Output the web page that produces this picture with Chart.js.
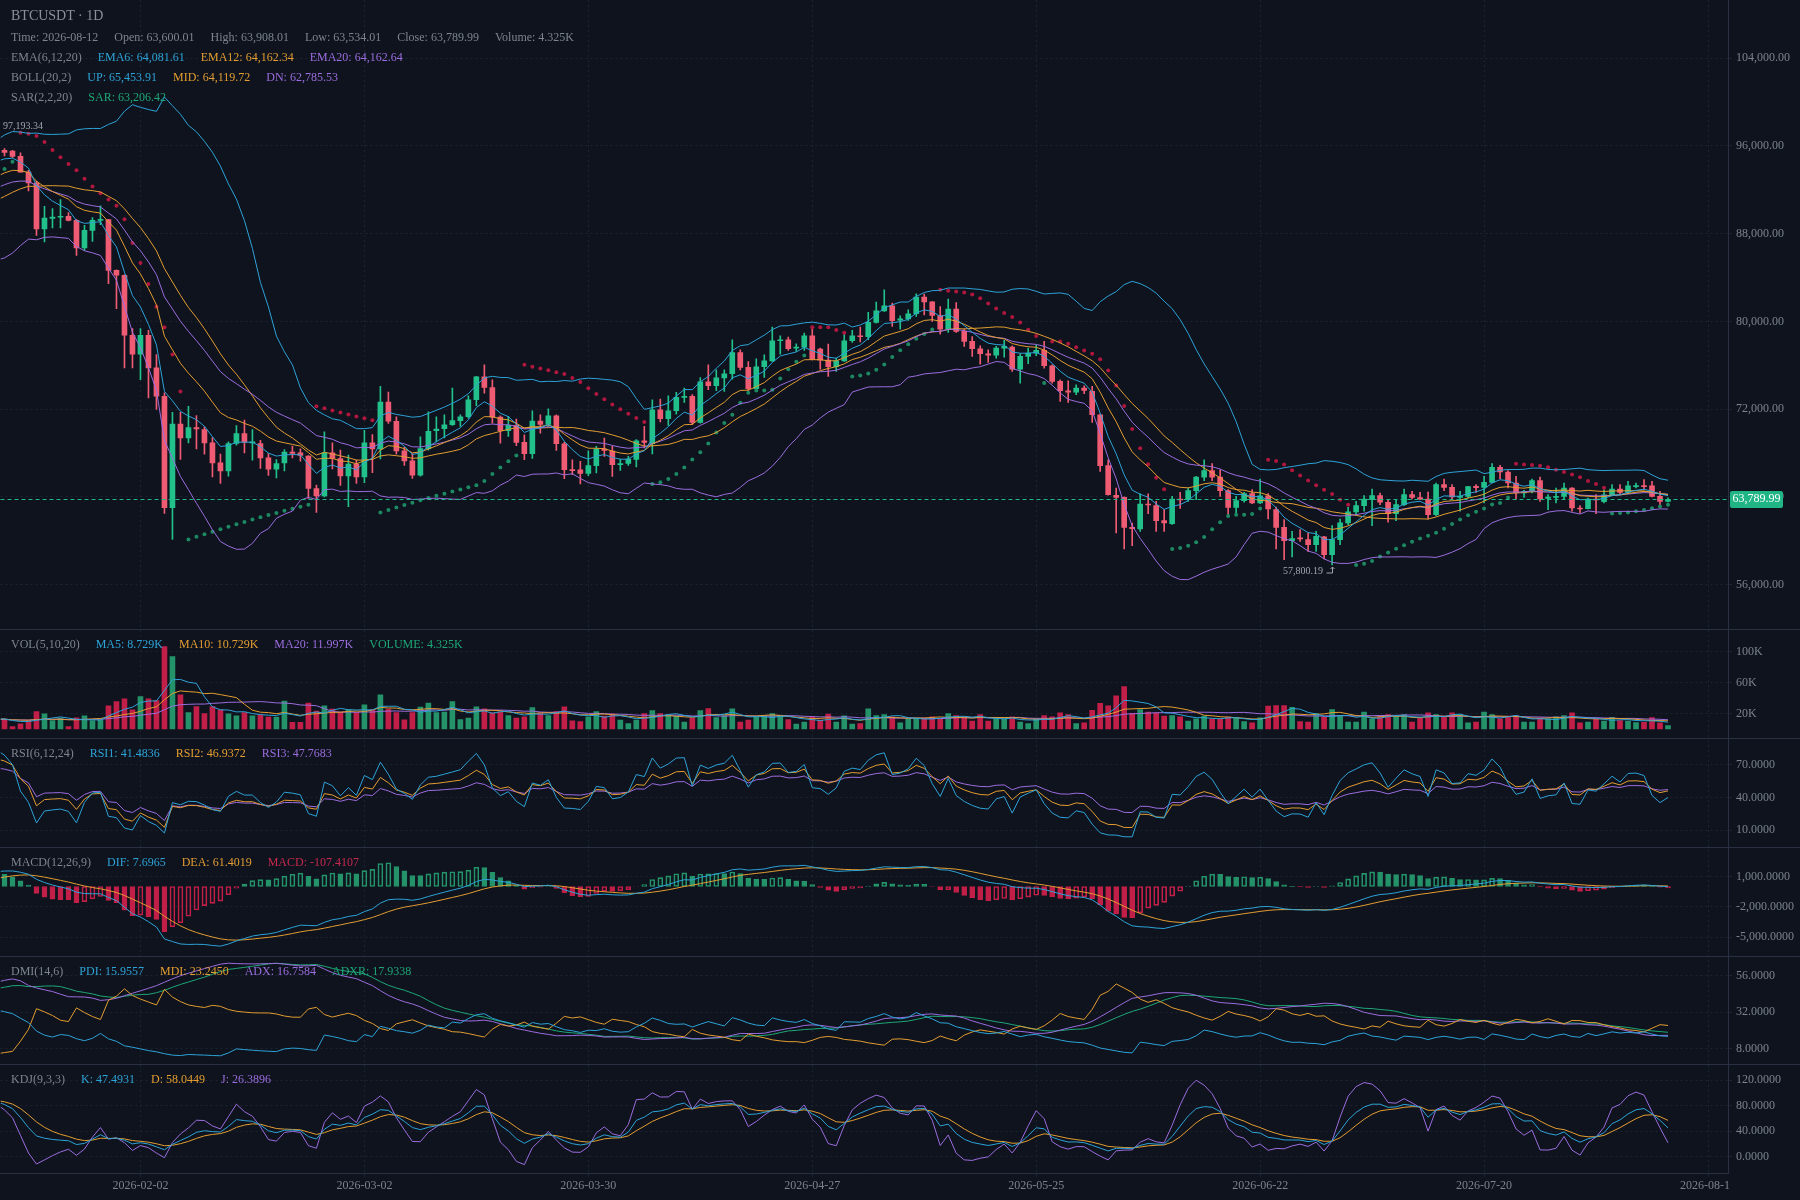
<!DOCTYPE html>
<html>
<head>
<meta charset="utf-8">
<title>BTCUSDT 1D</title>
<script src="https://cdn.jsdelivr.net/npm/chart.js@4.4.1/dist/chart.umd.min.js"></script>
<style>
  html, body { margin: 0; padding: 0; background: #0e131d; }
  #wrap { position: relative; width: 1800px; height: 1200px; overflow: hidden; }
  #chart { display: block; }
  .row { position: absolute; left: 11px; height: 16px; line-height: 16px; font: 12px "Liberation Serif", serif; color: #7e848f; white-space: nowrap; }
  .row span { margin-right: 16px; }
  .row.title { font-size: 14px; color: #8a909a; }
  .tag { position: absolute; left: 1730px; width: 53px; height: 17px; line-height: 17px; text-align: center; background: #1fb584; color: #ffffff; font: 12px "Liberation Serif", serif; border-radius: 2px; }
  .mark { position: absolute; font: 10px "Liberation Serif", serif; color: #a0a5ae; white-space: nowrap; height: 12px; line-height: 12px; }
</style>
</head>
<body>
<div id="wrap"><canvas id="chart" width="1800" height="1200"></canvas></div>
<script>
// daily candles, first 45 rows sit left of the visible window (2026-01-16 .. 2026-08-12)
var START_DAY = '2025-12-02';
var VIEW_FROM = '2026-01-16';
var VIEW_TO = '2026-08-19';

var opens = [
90800,91200,91800,92500,92100,93000,93600,93100,92400,92900,
92200,91500,91900,91100,90400,90900,90200,89500,89900,89100,
88400,88900,88200,87700,88300,87800,88200,87600,87200,88000,
88700,88300,89300,90000,89600,90500,91200,90800,91700,92600,
92200,93500,94600,95400,95800,
95590,95530,95050,93620,92620,88430,89400,89500,89580,89220,
86700,88310,89220,89280,84660,84210,78740,77010,78740,75760,
73180,63010,70630,69390,70330,70140,68930,67110,66380,68870,
69780,68930,68870,67560,66530,67110,68080,68020,67720,64770,
64100,68020,67500,65920,66990,65830,68930,68380,72640,70900,
68200,67290,65980,68410,70050,70220,70580,70950,71310,72860,
74960,73980,71280,70040,70520,68970,67940,70920,70610,71400,
68850,66480,66480,66150,66850,68370,68180,66940,67060,67420,
69120,68850,71950,71130,71860,73070,73160,70790,74500,74140,
74860,75230,77170,75810,73860,75870,76410,78240,78330,77570,
77660,78690,77480,76470,75870,76410,78240,78690,78600,79910,
80970,81420,80120,80240,80700,82210,81790,80540,79300,81120,
79090,78180,77510,77050,76930,77570,77660,75650,76810,77110,
77360,75960,74530,73680,73560,73920,73620,71490,66850,64140,
63960,61230,61080,63350,63200,61840,61560,63810,63750,64570,
65810,66390,65810,64570,63050,63660,64300,63450,64110,62840,
61230,60010,60230,60100,59650,60350,58740,60110,61630,62630,
63200,63750,64120,63510,62480,63300,64210,63930,63810,62380,
65120,64870,63960,64050,64970,64870,65330,66700,66270,65270,
64360,64510,65480,63870,63960,64050,64810,62990,62930,63810,
63570,64180,64720,64420,64940,65030,65000,64050,63600.01];

var highs = [
91500,92100,92900,92800,93300,94000,93900,93300,93200,93100,
92500,92300,92100,91400,91300,91100,90500,90300,90100,89400,
89300,89100,88500,88700,88500,88600,88400,87900,88400,89100,
89000,89700,90400,90300,90900,91600,91500,92100,93000,92900,
93900,95000,95800,96300,97193.34,
95750,95600,95380,93770,92770,90490,90280,91100,89920,89310,
88760,89460,90550,89310,84700,84250,79350,79350,79200,76980,
73490,71720,71720,72270,71420,70390,69420,67900,69020,70510,
71000,70140,69170,67960,67410,68320,68630,68380,67780,65070,
69930,68930,68260,67810,67350,70080,69690,74090,73550,71300,
68510,67960,69480,71750,71300,71490,73920,71490,73220,75000,
76050,74680,71400,71340,71100,69670,71860,71490,72040,71490,
69000,67390,67240,68210,68610,69370,68610,67450,67700,69220,
70430,72860,72920,73220,73530,73920,73320,74890,76050,75590,
75590,78330,77420,76350,76600,76960,79480,78690,78570,77960,
78930,79480,77570,77930,76660,78930,79180,79480,80820,81760,
82880,81670,80510,81060,82520,82490,81820,81360,82030,81730,
79300,78630,77780,77420,77720,78270,77780,77050,77570,77870,
78180,76050,74680,74590,74230,74140,74080,71550,67390,64810,
64000,61620,64270,64270,63600,62840,64050,64420,64810,65880,
67390,67030,66480,64660,64050,64420,64660,65630,64300,63080,
61930,60860,61020,60710,60860,60400,61380,61990,63050,63600,
64120,64720,64360,63750,63750,64720,64510,64420,64450,65270,
65630,65120,64510,64970,65120,65880,67030,66880,66390,65880,
64600,65630,65820,64210,64810,65270,64850,63200,63900,64210,
64660,65120,65120,65420,65270,65570,65420,64510,63908.01];

var lows = [
90500,90900,91600,91700,91900,92700,92800,92000,92100,91900,
91100,91200,90800,90000,90100,89800,89100,89200,88700,88000,
88100,87800,87300,87400,87400,87500,87200,86800,86900,87700,
87900,88100,89000,89200,89400,90200,90400,90600,91500,91800,
92000,93300,94300,95000,95300,
95100,94930,93600,91890,87850,87240,88520,88520,89160,86030,
86480,87300,88820,83450,81170,75760,75760,74700,73030,71970,
62490,60120,67410,68930,68380,67900,65830,65230,65890,68720,
68020,67350,66590,65950,65740,66380,67560,67260,63860,62580,
64010,66560,65040,63100,65230,65290,66200,67470,70690,67900,
66870,65680,65890,68260,69020,69370,70520,70430,71190,72310,
73470,70730,68910,69520,68670,67390,67520,69820,70430,68240,
65660,66030,65180,65940,66180,67700,65870,66420,66880,66730,
68460,67910,70830,70520,71550,72620,70580,70730,73770,73680,
73620,74740,75590,73710,73770,74890,76350,77020,77350,77260,
77350,76500,75650,74990,75440,76350,78080,78140,78330,79850,
80910,79540,79300,80090,80450,80600,80000,78840,79000,79000,
77720,76810,76110,76260,76660,76750,75440,74380,76140,76870,
75750,74380,72710,72620,73320,73410,70800,66330,64150,60710,
59250,59560,60860,62470,60860,60860,61500,62960,63600,63750,
65480,65480,64050,62380,62440,63510,63380,63380,61990,59250,
58280,58530,59950,59040,59040,58350,57800.19,59650,61470,62380,
62690,61380,63300,61690,61840,63200,63810,63750,61990,62290,
64570,63810,62690,63900,64420,63450,65270,65630,64810,63810,
63960,64360,63600,62840,63450,63750,62690,62540,62900,62480,
63450,64120,64300,64300,64810,64720,63990,63300,63534.01];

var closes = [
91200,91800,92500,92100,93000,93600,93100,92400,92900,92200,
91500,91900,91100,90400,90900,90200,89500,89900,89100,88400,
88900,88200,87700,88300,87800,88200,87600,87200,88000,88700,
88300,89300,90000,89600,90500,91200,90800,91700,92600,92200,
93500,94600,95400,95800,95600,
95410,95050,93620,92620,88430,89430,89520,89580,89220,86700,
88310,89220,89280,84660,84210,78740,77010,78740,75760,73180,
63010,70630,69390,70330,70200,68930,67110,66380,68870,69780,
68990,68990,67560,66530,67050,68080,67960,67780,64770,64100,
68020,67500,65920,66990,65830,68930,68380,72640,70900,68200,
67290,65980,68410,69990,70180,70580,70950,71310,72860,74960,
73980,71280,70040,70520,68970,67940,70920,70610,71400,68850,
66480,66390,66150,66850,68370,68240,66940,67030,67450,69120,
68970,71950,71130,71860,73070,73160,70790,74500,74140,74860,
75230,77170,75810,73860,75870,76410,78240,78330,77510,77660,
78690,76570,76470,75870,76410,78240,78690,78600,79910,80970,
81420,80060,80240,80700,82210,81790,80540,79300,81120,79090,
78180,77510,77050,76930,77570,77720,75650,76810,77110,77360,
75960,74530,73680,73560,73920,73710,71490,66850,64200,63960,
61230,61110,63350,63260,61840,61620,63810,63720,64570,65810,
66390,65810,64570,63050,63660,64300,63450,64110,62900,61230,
60010,60200,60170,59650,60410,58740,60110,61630,62630,63200,
63810,64120,63510,62480,63300,64210,63960,63810,62380,65120,
64870,63990,64050,64940,64840,65330,66700,66270,65270,64360,
64510,65480,63810,63990,64050,64810,62990,62900,63810,63720,
64180,64720,64420,65000,65030,64940,64050,63600,63789.99];

var volumes = [
11000,9500,12800,10200,14100,12500,9800,11300,8700,10400,
13200,9100,11800,12600,10900,9300,12100,10700,13500,11200,
9900,12300,10600,8900,11500,12900,10100,9600,13800,11700,
10300,12400,9400,14200,11900,10800,13100,9700,12200,15400,
11600,13700,12900,10500,14800,
12600,3000,6500,10800,22500,19500,10800,13900,3000,14300,
16900,10800,11700,29900,35500,39000,24700,42000,39000,36800,
107000,94000,44000,21000,29000,19900,29000,24700,19500,16900,
21000,16900,18200,15200,15200,36000,8300,8300,33300,22900,
30000,25600,21000,24700,21000,31300,24700,44000,25600,21000,
11700,21000,28100,33300,21000,21600,35500,12000,13900,28600,
26000,20800,21600,17300,13900,15600,27700,20800,17300,22500,
28600,10400,9500,15600,22500,16500,19500,11300,6900,11300,
19900,23800,19900,18200,16500,8700,13900,23800,26400,14700,
17300,26000,8700,11300,15600,17300,19900,17300,12100,6100,
8700,15600,11300,19000,8700,16900,6100,6900,26000,17300,
18600,15600,7800,13000,13000,14300,15600,13000,19900,17300,
15600,10000,18600,10000,13000,13000,15600,8700,6900,13000,
17300,15600,20800,18600,6900,7800,24000,33000,30000,43000,
55000,20000,25000,21600,20800,16500,17300,15600,10000,13000,
16500,13000,13000,15600,14300,9500,7800,14300,29400,30300,
30300,28000,9500,8700,19900,15600,25000,17300,8700,8700,
21600,13000,17300,18600,15600,18600,8700,14300,20800,18600,
16500,20800,18600,7800,8700,21600,18600,13000,16500,17300,
8700,8700,14300,13000,15600,17300,20800,7800,8700,14000,
10000,15000,10800,10000,8000,8500,14500,7800,4325];

var tickDates = ['2026-02-02','2026-03-02','2026-03-30','2026-04-27','2026-05-25','2026-06-22','2026-07-20','2026-08-17'];
var priceTicks = [56000,64000,72000,80000,88000,96000,104000];
var volTicks = [20000,60000,100000];
var rsiTicks = [10,40,70];
var macdTicks = [-5000,-2000,1000];
var dmiTicks = [8,32,56];
var kdjTicks = [0,40,80,120];

// legend texts as shown for the last bar
var infoRow = ['Time: 2026-08-12','Open: 63,600.01','High: 63,908.01','Low: 63,534.01','Close: 63,789.99','Volume: 4.325K'];
var emaRow = [['EMA(6,12,20)',''],['EMA6: 64,081.61','b'],['EMA12: 64,162.34','o'],['EMA20: 64,162.64','p']];
var bollRow = [['BOLL(20,2)',''],['UP: 65,453.91','b'],['MID: 64,119.72','o'],['DN: 62,785.53','p']];
var sarRow = [['SAR(2,2,20)',''],['SAR: 63,206.42','g']];
var volRow = [['VOL(5,10,20)',''],['MA5: 8.729K','b'],['MA10: 10.729K','o'],['MA20: 11.997K','p'],['VOLUME: 4.325K','g']];
var rsiRow = [['RSI(6,12,24)',''],['RSI1: 41.4836','b'],['RSI2: 46.9372','o'],['RSI3: 47.7683','p']];
var macdRow = [['MACD(12,26,9)',''],['DIF: 7.6965','b'],['DEA: 61.4019','o'],['MACD: -107.4107','r']];
var dmiRow = [['DMI(14,6)',''],['PDI: 15.9557','b'],['MDI: 23.2450','o'],['ADX: 16.7584','p'],['ADXR: 17.9338','g']];
var kdjRow = [['KDJ(9,3,3)',''],['K: 47.4931','b'],['D: 58.0449','o'],['J: 26.3896','p']];

var BG = '#0e131d', GRID = '#1d2431', AXIS = '#283041', TICK = '#7d838e';
var BLUE = '#2ea3d8', ORANGE = '#e39d32', PURPLE = '#9c6ddf', GREEN = '#1fa777', RED = '#c8294f';
var UP = '#22c08a', DOWN = '#ef5b73', VUP = '#25936a', VDOWN = '#c11f48';
var SAR_UP = '#1c8962', SAR_DOWN = '#b0173e';
var FONT = '"Liberation Serif", serif';
var txtColors = { b: BLUE, o: ORANGE, p: PURPLE, g: GREEN, r: RED };

var FUTURE = 7;
var dates = [];
var t0 = Date.parse(START_DAY + 'T00:00:00Z');
for (var i = 0; i < closes.length + FUTURE; i++) {
	dates.push(new Date(t0 + i * 86400000).toISOString().slice(0, 10));
}
var firstVisible = dates.indexOf(VIEW_FROM);

function emaOf(src, n) {
	var out = [], prev = null;
	src.forEach(function (v) {
		prev = prev === null ? v : (2 * v + (n - 1) * prev) / (n + 1);
		out.push(prev);
	});
	return out;
}

function maOf(src, n) {
	return src.map(function (_, i) {
		if (i < n - 1) return null;
		var s = 0;
		for (var j = i - n + 1; j <= i; j++) s += src[j];
		return s / n;
	});
}

function sarOf(h, l, step, maxAf) {
	var vals = [l[0]], rising = [true];
	var up = true, af = step, ep = h[0], s = l[0];
	for (var i = 1; i < h.length; i++) {
		s = s + af * (ep - s);
		if (up) {
			s = Math.min(s, l[i - 1], l[Math.max(i - 2, 0)]);
			if (l[i] < s) { up = false; s = ep; ep = l[i]; af = step; }
			else if (h[i] > ep) { ep = h[i]; af = Math.min(af + step, maxAf); }
		} else {
			s = Math.max(s, h[i - 1], h[Math.max(i - 2, 0)]);
			if (h[i] > s) { up = true; s = ep; ep = h[i]; af = step; }
			else if (l[i] < ep) { ep = l[i]; af = Math.min(af + step, maxAf); }
		}
		vals.push(s);
		rising.push(up);
	}
	return { vals: vals, rising: rising };
}

function rsiOf(c, n) {
	var out = [null], gain = 0, loss = 0;
	for (var i = 1; i < c.length; i++) {
		var d = c[i] - c[i - 1];
		gain = (Math.max(d, 0) + (n - 1) * gain) / n;
		loss = (Math.abs(d) + (n - 1) * loss) / n;
		out.push(loss === 0 ? 100 : gain / loss * 100);
	}
	return out;
}

function dmiOf(h, l, c, n, m) {
	var pdi = [null], mdi = [null], adx = [null];
	var tr = 0, pdm = 0, mdm = 0, ax = null;
	for (var i = 1; i < c.length; i++) {
		var t = Math.max(h[i] - l[i], Math.abs(h[i] - c[i - 1]), Math.abs(l[i] - c[i - 1]));
		var hd = h[i] - h[i - 1], ld = l[i - 1] - l[i];
		tr = tr - tr / n + t;
		pdm = pdm - pdm / n + (hd > 0 && hd > ld ? hd : 0);
		mdm = mdm - mdm / n + (ld > 0 && ld > hd ? ld : 0);
		var p = pdm / tr * 100, q = mdm / tr * 100;
		var dx = p + q === 0 ? 0 : Math.abs(p - q) / (p + q) * 100;
		ax = ax === null ? dx : (ax * (n - 1) + dx) / n;
		pdi.push(p); mdi.push(q); adx.push(ax);
	}
	var adxr = adx.map(function (v, i) {
		return i < m + 1 ? null : (v + adx[i - m]) / 2;
	});
	return { pdi: pdi, mdi: mdi, adx: adx, adxr: adxr };
}

function kdjOf(h, l, c, n, m1, m2) {
	var k = 50, d = 50, K = [], D = [], J = [];
	for (var i = 0; i < c.length; i++) {
		var a = Math.max(0, i - n + 1);
		var hh = Math.max.apply(null, h.slice(a, i + 1));
		var ll = Math.min.apply(null, l.slice(a, i + 1));
		var rsv = hh === ll ? 50 : (c[i] - ll) / (hh - ll) * 100;
		k = ((m1 - 1) * k + rsv) / m1;
		d = ((m2 - 1) * d + k) / m2;
		K.push(k); D.push(d); J.push(3 * k - 2 * d);
	}
	return { k: K, d: D, j: J };
}

// indicators
var ema6 = emaOf(closes, 6), ema12 = emaOf(closes, 12), ema20 = emaOf(closes, 20);
var bollMid = maOf(closes, 20), bollUp = [], bollDn = [];
closes.forEach(function (_, i) {
	if (bollMid[i] === null) { bollUp.push(null); bollDn.push(null); return; }
	var v = 0;
	for (var j = i - 19; j <= i; j++) v += Math.pow(closes[j] - bollMid[i], 2);
	var sd = Math.sqrt(v / 20);
	bollUp.push(bollMid[i] + 2 * sd);
	bollDn.push(bollMid[i] - 2 * sd);
});
var sar = sarOf(highs, lows, 0.02, 0.2);
var volMa5 = maOf(volumes, 5), volMa10 = maOf(volumes, 10), volMa20 = maOf(volumes, 20);
var rsi6 = rsiOf(closes, 6), rsi12 = rsiOf(closes, 12), rsi24 = rsiOf(closes, 24);
var e26 = emaOf(closes, 26);
var dif = closes.map(function (_, i) { return ema12[i] - e26[i]; });
var dea = emaOf(dif, 9);
var macd = dif.map(function (v, i) { return 2 * (v - dea[i]); });
var dmi = dmiOf(highs, lows, closes, 14, 6);
var kdj = kdjOf(highs, lows, closes, 9, 3, 3);

var rising = closes.map(function (c, i) { return c >= opens[i]; });
var candleColors = rising.map(function (u) { return u ? UP : DOWN; });
var volColors = rising.map(function (u) { return u ? VUP : VDOWN; });
var bodies = closes.map(function (c, i) { return [Math.min(c, opens[i]), Math.max(c, opens[i])]; });
var wicks = closes.map(function (c, i) { return [lows[i], highs[i]]; });
var macdLine = macd.map(function (v) { return v >= 0 ? VUP : VDOWN; });
var macdFill = macd.map(function (v, i) {
	var growing = i > 0 && v > macd[i - 1];
	return growing ? 'rgba(0,0,0,0)' : (v >= 0 ? VUP : VDOWN);
});

function line(data, color, axis) {
	return { type: 'line', data: data, yAxisID: axis, borderColor: color, borderWidth: 1,
		pointRadius: 0, tension: 0, order: 0 };
}

var datasets = [
	line(ema6, BLUE, 'y'), line(ema12, ORANGE, 'y'), line(ema20, PURPLE, 'y'),
	line(bollUp, BLUE, 'y'), line(bollMid, ORANGE, 'y'), line(bollDn, PURPLE, 'y'),
	{ type: 'line', data: sar.vals, yAxisID: 'y', showLine: false, pointRadius: 2, pointBorderWidth: 0,
		pointBackgroundColor: sar.rising.map(function (u) { return u ? SAR_UP : SAR_DOWN; }), order: 0 },
	{ type: 'bar', data: bodies, yAxisID: 'y', backgroundColor: candleColors, barThickness: 5,
		minBarLength: 1, grouped: false, order: 1 },
	{ type: 'bar', data: wicks, yAxisID: 'y', backgroundColor: candleColors, barThickness: 1,
		grouped: false, order: 2 },
	{ type: 'bar', data: volumes, yAxisID: 'yv', backgroundColor: volColors, barThickness: 5,
		grouped: false, order: 1 },
	line(volMa5, BLUE, 'yv'), line(volMa10, ORANGE, 'yv'), line(volMa20, PURPLE, 'yv'),
	line(rsi6, BLUE, 'yr'), line(rsi12, ORANGE, 'yr'), line(rsi24, PURPLE, 'yr'),
	{ type: 'bar', data: macd, yAxisID: 'ym', backgroundColor: macdFill, borderColor: macdLine,
		borderWidth: 1, borderSkipped: false, barThickness: 5, grouped: false, order: 1 },
	line(dif, BLUE, 'ym'), line(dea, ORANGE, 'ym'),
	line(dmi.pdi, BLUE, 'yd'), line(dmi.mdi, ORANGE, 'yd'), line(dmi.adx, PURPLE, 'yd'), line(dmi.adxr, GREEN, 'yd'),
	line(kdj.k, BLUE, 'yk'), line(kdj.d, ORANGE, 'yk'), line(kdj.j, PURPLE, 'yk')
];

function fmtPrice(v) { return v.toLocaleString('en-US', { minimumFractionDigits: 2, maximumFractionDigits: 2 }); }
function fmt4(v) { return v.toLocaleString('en-US', { minimumFractionDigits: 4, maximumFractionDigits: 4 }); }
function fmtK(v) { return (v / 1000) + 'K'; }

function pane(weight, min, max, ticks, fmt) {
	return {
		type: 'linear', position: 'right', stack: 'panes', stackWeight: weight, min: min, max: max,
		afterBuildTicks: function (s) { s.ticks = ticks.map(function (v) { return { value: v }; }); },
		afterFit: function (s) { s.width = 72; s.paddingTop = 0; s.paddingBottom = 0; },
		grid: { color: GRID, tickLength: 4 },
		border: { color: AXIS, dash: [2, 3] },
		ticks: { color: TICK, font: { family: FONT, size: 12 }, padding: 4, callback: fmt }
	};
}

// keep each pane's marks inside its own band
var paneClip = {
	id: 'paneClip',
	beforeDatasetDraw: function (chart, args) {
		var s = chart.scales[args.meta.yAxisID], a = chart.chartArea, ctx = chart.ctx;
		ctx.save();
		ctx.beginPath();
		ctx.rect(a.left, s.top, a.right - a.left, s.bottom - s.top);
		ctx.clip();
	},
	afterDatasetDraw: function (chart) { chart.ctx.restore(); }
};

var overlay = {
	id: 'overlay',
	afterDatasetsDraw: function (chart) {
		var ctx = chart.ctx, a = chart.chartArea, y = chart.scales.y, x = chart.scales.x;
		var py = Math.round(y.getPixelForValue(closes[closes.length - 1])) + 0.5;
		ctx.save();
		ctx.strokeStyle = '#22b786';
		ctx.lineWidth = 1;
		ctx.setLineDash([4, 3]);
		ctx.beginPath();
		ctx.moveTo(a.left, py);
		ctx.lineTo(a.right, py);
		ctx.stroke();
		ctx.setLineDash([]);
		var lo = lowestIndex();
		var lx = Math.round(x.getPixelForValue(lo)) + 0.5, ly = Math.round(y.getPixelForValue(lows[lo]));
		ctx.strokeStyle = '#a0a5ae';
		ctx.beginPath();
		ctx.moveTo(lx, ly + 2);
		ctx.lineTo(lx, ly + 8);
		ctx.lineTo(lx - 6, ly + 8);
		ctx.moveTo(lx - 2, ly + 4);
		ctx.lineTo(lx, ly + 2);
		ctx.lineTo(lx + 2, ly + 4);
		ctx.stroke();
		ctx.restore();
	},
	afterDraw: function (chart) {
		var ctx = chart.ctx, a = chart.chartArea;
		ctx.save();
		ctx.fillStyle = BG;
		ctx.fillRect(a.right + 1, a.bottom + 1, chart.width - a.right, chart.height - a.bottom);
		ctx.strokeStyle = AXIS;
		ctx.lineWidth = 1;
		['yv', 'yr', 'ym', 'yd', 'yk'].forEach(function (id) {
			var t = Math.round(chart.scales[id].top) + 0.5;
			ctx.beginPath();
			ctx.moveTo(0, t);
			ctx.lineTo(chart.width, t);
			ctx.stroke();
		});
		ctx.restore();
	}
};

function lowestIndex() {
	var best = firstVisible;
	for (var i = firstVisible; i < lows.length; i++) if (lows[i] < lows[best]) best = i;
	return best;
}
function highestIndex() {
	var best = firstVisible - 1;
	for (var i = firstVisible - 1; i < highs.length; i++) if (highs[i] > highs[best]) best = i;
	return best;
}

var chart = new Chart(document.getElementById('chart'), {
	type: 'bar',
	data: { labels: dates, datasets: datasets },
	options: {
		responsive: false,
		animation: false,
		devicePixelRatio: 1,
		events: [],
		layout: { autoPadding: false, padding: { left: 0.5, right: 0, top: 0, bottom: 0 } },
		plugins: { legend: { display: false }, tooltip: { enabled: false } },
		scales: {
			x: {
				type: 'category', min: VIEW_FROM, max: VIEW_TO, offset: true,
				afterBuildTicks: function (s) { s.ticks = tickDates.map(function (d) { return { value: dates.indexOf(d) }; }); },
				afterFit: function (s) { s.height = 27; s.paddingLeft = 0; s.paddingRight = 0; },
				grid: { color: GRID, offset: false, tickLength: 4 },
				border: { color: AXIS, dash: [2, 3] },
				ticks: { color: TICK, font: { family: FONT, size: 12 }, maxRotation: 0, autoSkip: false, padding: 2,
					callback: function (v) { return this.getLabelForValue(v); } }
			},
			y: pane(629.4, 51935, 109308, priceTicks, fmtPrice),
			yv: pane(108.9, -12100, 129400, volTicks, fmtK),
			yr: pane(109.3, -5.7, 94.7, rsiTicks, fmt4),
			ym: pane(108.2, -6816, 3862, macdTicks, fmt4),
			yd: pane(108.9, -2.1, 69.1, dmiTicks, fmt4),
			yk: pane(108.6, -25.8, 145, kdjTicks, fmt4)
		}
	},
	plugins: [paneClip, overlay]
});

// legends and labels as page text
var wrap = document.getElementById('wrap');
function addRow(top, parts, extra) {
	var div = document.createElement('div');
	div.className = 'row' + (extra ? ' ' + extra : '');
	div.style.top = top + 'px';
	parts.forEach(function (p) {
		var s = document.createElement('span');
		s.textContent = p[0];
		if (p[1]) s.style.color = txtColors[p[1]];
		div.appendChild(s);
	});
	wrap.appendChild(div);
}
var sc = chart.scales;
addRow(8, [['BTCUSDT · 1D', '']], 'title');
addRow(30, infoRow.map(function (t) { return [t, '']; }));
addRow(50, emaRow);
addRow(70, bollRow);
addRow(90, sarRow);
addRow(Math.round(sc.yv.top) + 8, volRow);
addRow(Math.round(sc.yr.top) + 8, rsiRow);
addRow(Math.round(sc.ym.top) + 8, macdRow);
addRow(Math.round(sc.yd.top) + 8, dmiRow);
addRow(Math.round(sc.yk.top) + 8, kdjRow);

var last = closes[closes.length - 1];
var tag = document.createElement('div');
tag.className = 'tag';
tag.textContent = fmtPrice(last);
tag.style.top = Math.round(sc.y.getPixelForValue(last) - 8.5) + 'px';
wrap.appendChild(tag);

var hi = highestIndex();
var hiMark = document.createElement('div');
hiMark.className = 'mark';
hiMark.textContent = fmtPrice(highs[hi]);
hiMark.style.left = Math.max(3, sc.x.getPixelForValue(hi) + 6) + 'px';
hiMark.style.top = Math.round(sc.y.getPixelForValue(highs[hi]) - 13) + 'px';
wrap.appendChild(hiMark);

var lo = lowestIndex();
var loMark = document.createElement('div');
loMark.className = 'mark';
loMark.textContent = fmtPrice(lows[lo]);
loMark.style.right = Math.round(1800 - (sc.x.getPixelForValue(lo) - 9)) + 'px';
loMark.style.top = Math.round(sc.y.getPixelForValue(lows[lo]) + 0) + 'px';
wrap.appendChild(loMark);
</script>
</body>
</html>
